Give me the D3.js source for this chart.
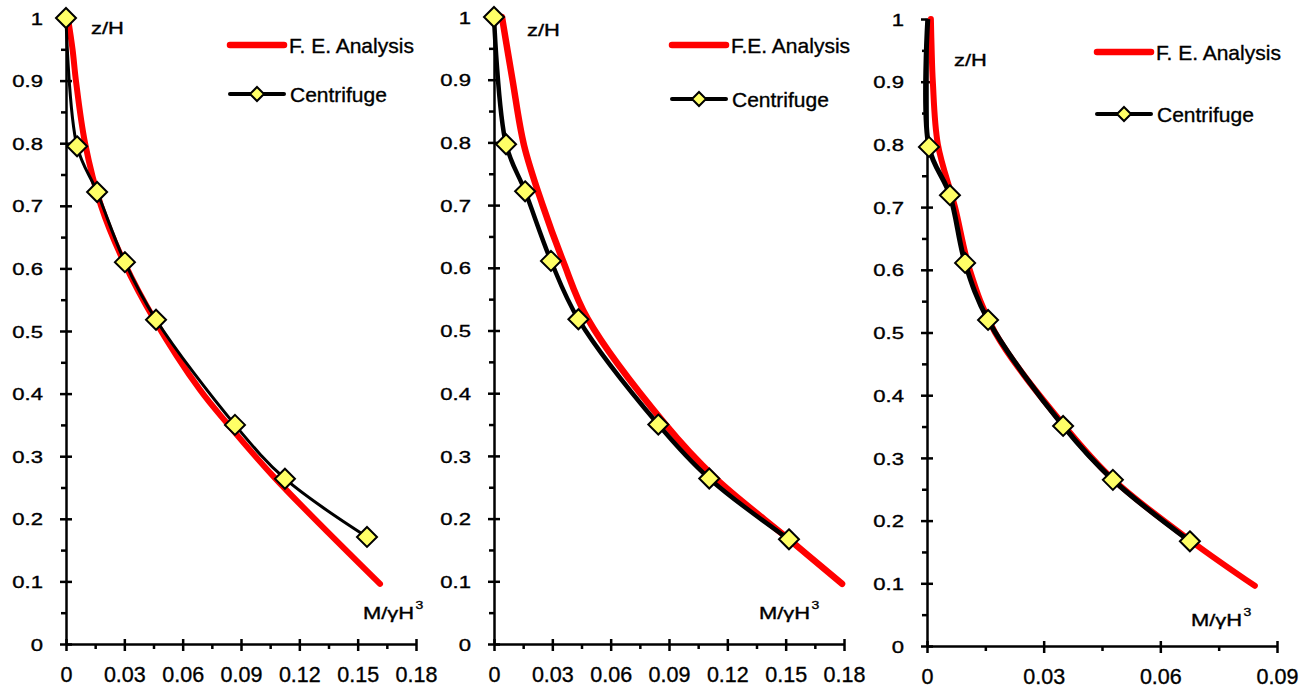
<!DOCTYPE html>
<html>
<head>
<meta charset="utf-8">
<script src="https://cdn.jsdelivr.net/npm/d3@7"></script>
<style>
  body { margin: 0; background: #fff; }
  text { font-family: "Liberation Sans", Arial, sans-serif; fill: #000; stroke: #000; stroke-width: 0.35px; }
</style>
</head>
<body>
<div id="chart"></div>
<script>
// tick labels
var yTicks = [0, 0.1, 0.2, 0.3, 0.4, 0.5, 0.6, 0.7, 0.8, 0.9, 1];
var xTicksWide = [0, 0.03, 0.06, 0.09, 0.12, 0.15, 0.18];
var xTicksNarrow = [0, 0.03, 0.06, 0.09];

// panel 1 : F.E. curve and centrifuge points  (M/γH³ , z/H)
var feM1 = [0.001, 0.0034, 0.0051, 0.0098, 0.018, 0.0298, 0.0453, 0.0689, 0.0833, 0.1075, 0.1615];
var feZ1 = [1, 0.949, 0.9, 0.8, 0.7, 0.61, 0.519, 0.406, 0.351, 0.265, 0.096];
var cfM1 = [0, 0.0057, 0.016, 0.0303, 0.0463, 0.0869, 0.1126, 0.1548];
var cfZ1 = [1, 0.795, 0.722, 0.610, 0.518, 0.350, 0.264, 0.171];

// panel 2
var feM2 = [0.0041, 0.0095, 0.0154, 0.025, 0.0355, 0.0483, 0.0879, 0.1137, 0.1517, 0.179];
var feZ2 = [1, 0.9, 0.796, 0.7, 0.611, 0.518, 0.351, 0.265, 0.167, 0.096];
var cfM2 = [0, 0.0062, 0.016, 0.0293, 0.0434, 0.0845, 0.1107, 0.1517];
var cfZ2 = [1, 0.797, 0.722, 0.611, 0.518, 0.350, 0.264, 0.167];

// panel 3
var feM3 = [0.001, 0.0012, 0.0015, 0.0028, 0.0072, 0.011, 0.0175, 0.0355, 0.048, 0.068, 0.0843];
var feZ3 = [1, 0.95, 0.9, 0.8, 0.7, 0.6, 0.5, 0.35, 0.265, 0.167, 0.096];
var cfM3 = [0.0002, 0.0005, 0.0059, 0.0098, 0.0157, 0.035, 0.0478, 0.0676];
var cfZ3 = [1, 0.796, 0.719, 0.611, 0.520, 0.351, 0.265, 0.167];

var feNames = ["F. E. Analysis", "F.E. Analysis", "F. E. Analysis"];
var cfName = "Centrifuge";

var width = 1315, height = 692;

var panels = [
    {left: 66, right: 416, top: 18, bottom: 644, xMax: 0.18, xTicks: xTicksWide,
     fe: [feM1, feZ1], cf: [cfM1, cfZ1], markerFrom: 0, feW: 6, cfW: 3,
     leg: {x: 230, y1: 45, y2: 94}, zh: [91, 34], mh: [363, 619]},
    {left: 494, right: 844, top: 17, bottom: 644, xMax: 0.18, xTicks: xTicksWide,
     fe: [feM2, feZ2], cf: [cfM2, cfZ2], markerFrom: 0, feW: 6.5, cfW: 4.5,
     leg: {x: 672, y1: 45, y2: 99}, zh: [527, 36], mh: [759, 619]},
    {left: 927, right: 1277, top: 19, bottom: 646, xMax: 0.09, xTicks: xTicksNarrow,
     fe: [feM3, feZ3], cf: [cfM3, cfZ3], markerFrom: 1, feW: 6, cfW: 5,
     leg: {x: 1097, y1: 52, y2: 114}, zh: [954, 66], mh: [1191, 626]}
];

var svg = d3.select("#chart").append("svg")
    .attr("width", width)
    .attr("height", height);

svg.append("rect").attr("width", width).attr("height", height).attr("fill", "#fff");

var fmt = function (d) { return String(+d.toFixed(2)); };

// stretched text like the original picture
function stretchText(g, x, y, str, size, sx, anchor) {
    return g.append("text")
        .attr("transform", "translate(" + x + "," + y + ") scale(" + sx + ",1)")
        .attr("font-size", size)
        .attr("text-anchor", anchor || "start")
        .text(str);
}

function diamond(g, x, y, r) {
    g.append("path")
        .attr("d", "M" + x + "," + (y - r) + "L" + (x + r) + "," + y + "L" + x + "," + (y + r) + "L" + (x - r) + "," + y + "Z")
        .attr("fill", "#ffff66")
        .attr("stroke", "#000")
        .attr("stroke-width", 2);
}

panels.forEach(function (p, i) {
    var g = svg.append("g");

    var x = d3.scaleLinear().domain([0, p.xMax]).range([p.left, p.right]);
    var y = d3.scaleLinear().domain([0, 1]).range([p.bottom, p.top]);

    // minor ticks
    var xMinor = p.xTicks.slice(1).map(function (d, k) { return (d + p.xTicks[k]) / 2; });
    var yMinor = yTicks.slice(1).map(function (d, k) { return (d + yTicks[k]) / 2; });

    g.append("g")
        .attr("transform", "translate(" + p.left + ",0)")
        .call(d3.axisLeft(y).tickValues(yMinor).tickSize(5).tickFormat(""))
        .call(function (a) { a.select(".domain").remove(); })
        .selectAll("line").attr("stroke-width", 2.5);

    g.append("g")
        .attr("transform", "translate(0," + p.bottom + ")")
        .call(d3.axisBottom(x).tickValues(xMinor).tickSize(5).tickFormat(""))
        .call(function (a) { a.select(".domain").remove(); })
        .selectAll("line").attr("stroke-width", 2.5);

    // y axis
    var ya = g.append("g")
        .attr("transform", "translate(" + p.left + ",0)")
        .call(d3.axisLeft(y).tickValues(yTicks).tickSize(6).tickSizeOuter(0).tickFormat(fmt));
    ya.select(".domain").attr("stroke-width", 2.5);
    ya.selectAll(".tick line").attr("x1", 6).attr("stroke-width", 2.5);
    ya.selectAll(".tick text")
        .attr("x", 0).attr("dy", "0.36em")
        .attr("font-size", 17)
        .attr("font-family", "Liberation Sans, Arial, sans-serif")
        .attr("transform", "translate(-23,0) scale(1.3,1)");

    // x axis
    var xa = g.append("g")
        .attr("transform", "translate(0," + p.bottom + ")")
        .call(d3.axisBottom(x).tickValues(p.xTicks).tickSize(7).tickSizeOuter(0).tickFormat(fmt));
    xa.select(".domain").attr("stroke-width", 2.5);
    xa.selectAll(".tick line").attr("y1", -5).attr("stroke-width", 2.5);
    xa.selectAll(".tick text")
        .attr("y", 38).attr("dy", 0)
        .attr("font-size", 21.5)
        .attr("font-family", "Liberation Sans, Arial, sans-serif");

    // curves
    var feData = p.fe[0].map(function (m, k) { return [m, p.fe[1][k]]; });
    var cfData = p.cf[0].map(function (m, k) { return [m, p.cf[1][k]]; });

    var line = d3.line()
        .x(function (d) { return x(d[0]); })
        .y(function (d) { return y(d[1]); })
        .curve(d3.curveCatmullRom.alpha(0.5));

    g.append("path").datum(feData)
        .attr("d", line)
        .attr("fill", "none")
        .attr("stroke", "#ff0000")
        .attr("stroke-width", p.feW)
        .attr("stroke-linecap", "round");

    g.append("path").datum(cfData)
        .attr("d", line)
        .attr("fill", "none")
        .attr("stroke", "#000")
        .attr("stroke-width", p.cfW)
        .attr("stroke-linejoin", "round");

    cfData.slice(p.markerFrom).forEach(function (d) {
        diamond(g, x(d[0]), y(d[1]), 10);
    });

    // legend
    var L = p.leg;
    g.append("line")
        .attr("x1", L.x).attr("x2", L.x + 54)
        .attr("y1", L.y1).attr("y2", L.y1)
        .attr("stroke", "#ff0000").attr("stroke-width", 6.5)
        .attr("stroke-linecap", "round");
    g.append("text")
        .attr("x", L.x + 59).attr("y", L.y1 + 7.5)
        .attr("font-size", 21)
        .text(feNames[i]);

    g.append("line")
        .attr("x1", L.x).attr("x2", L.x + 54)
        .attr("y1", L.y2).attr("y2", L.y2)
        .attr("stroke", "#000").attr("stroke-width", 4)
        .attr("stroke-linecap", "round");
    diamond(g, L.x + 27, L.y2, 7);
    g.append("text")
        .attr("x", L.x + 60).attr("y", L.y2 + 7.5)
        .attr("font-size", 21)
        .text(cfName);

    // axis titles
    stretchText(g, p.zh[0], p.zh[1], "z/H", 16.5, 1.33);
    var mt = stretchText(g, p.mh[0], p.mh[1], "M/γH", 16.5, 1.33);
    mt.append("tspan")
        .attr("font-size", 10.5)
        .attr("dy", -10)
        .attr("dx", 1)
        .text("3");
});
</script>
</body>
</html>
